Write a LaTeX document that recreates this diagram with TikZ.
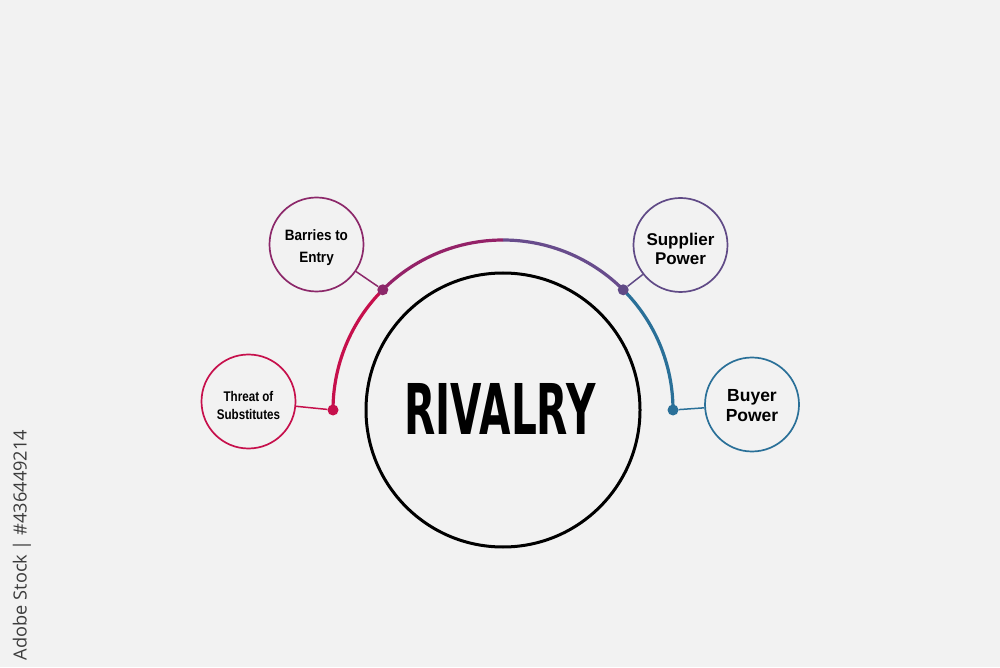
\documentclass[tikz,border=0pt]{standalone}
\usepackage{fontspec}
\usepackage{graphicx}
\setmainfont{Liberation Sans}
\newfontfamily\rivalfont{DejaVu Sans}
\definecolor{bgc}{RGB}{242,242,242}
\definecolor{crimc}{RGB}{198,16,76}
\definecolor{magc}{RGB}{148,34,104}
\definecolor{magdot}{RGB}{140,40,106}
\definecolor{purpc}{RGB}{104,76,140}
\definecolor{purpdot}{RGB}{96,74,134}
\definecolor{bluec}{RGB}{42,112,152}
\definecolor{idc}{RGB}{60,60,60}
\newcommand\mylbl[5]{\fontsize{#2}{#3}\selectfont\bfseries\scalebox{#1}[1]{\begin{tabular}{@{}c@{}}#4\\#5\end{tabular}}}
\tikzset{
  smallcirc/.style={circle, draw=#1, line width=1.7pt, minimum size=94pt, inner sep=0pt},
  lbltext/.style={inner sep=0pt, text=black},
  dotnode/.style={circle, fill=#1, minimum size=11pt, inner sep=0pt},
  conn/.style={draw=#1, line width=1.5pt},
  arcseg/.style={line width=3.2pt, line cap=butt}
}
\begin{document}
\begin{tikzpicture}[x=1pt,y=1pt]
\fill[bgc] (0,0) rectangle (1000,667);
\useasboundingbox (0,0) rectangle (1000,667);
\coordinate (C) at (503,257);
% outer arc in four coloured parts
\draw[arcseg, crimc] ([shift={(180:170)}]C) arc[start angle=180, end angle=135, radius=170];
\draw[arcseg, magc] ([shift={(135:170)}]C) arc[start angle=135, end angle=90, radius=170];
\draw[arcseg, purpc] ([shift={(90:170)}]C) arc[start angle=90, end angle=45, radius=170];
\draw[arcseg, bluec] ([shift={(45:170)}]C) arc[start angle=45, end angle=0, radius=170];
% central circle
\node[circle, draw=black, line width=3pt, minimum size=274pt, inner sep=0pt] (rival) at (C) {};
\node[inner sep=0pt] (rivaltxt) at (500,258.5) {\rivalfont\bfseries\fontsize{70}{70}\selectfont\scalebox{0.58}[1]{RIVALRY}};
% dots
\node[dotnode=crimc] (d1) at ([shift={(180:170)}]C) {};
\node[dotnode=magdot] (d2) at ([shift={(135:170)}]C) {};
\node[dotnode=purpdot] (d3) at ([shift={(45:170)}]C) {};
\node[dotnode=bluec] (d4) at ([shift={(0:170)}]C) {};
% outer circles
\node[smallcirc=magdot] (barr) at (316.5,422.5) {};
\node[smallcirc=crimc] (threat) at (248.5,265.5) {};
\node[smallcirc=purpdot] (supp) at (680.5,422) {};
\node[smallcirc=bluec] (buyer) at (752,262.5) {};
% labels
\node[lbltext] (barrtxt) at ([yshift=-2.5]barr.center) {\mylbl{0.9}{15}{22}{Barries to}{Entry}};
\node[lbltext] (threattxt) at ([yshift=-5.5]threat.center) {\mylbl{0.83}{14}{18}{Threat of}{Substitutes}};
\node[lbltext] (supptxt) at ([yshift=-6.5]supp.center) {\mylbl{1}{17}{18.5}{Supplier}{Power}};
\node[lbltext] (buyertxt) at ([yshift=-3]buyer.center) {\mylbl{1}{17.5}{20}{Buyer}{Power}};
% connectors
\draw[conn=magdot] (d2) -- (barr);
\draw[conn=crimc] (d1) -- (threat);
\draw[conn=purpdot] (d3) -- (supp);
\draw[conn=bluec] (d4) -- (buyer);
% stock id
\node[rotate=90, inner sep=0pt, text=idc] (stockid) at (22,122) {\resizebox{230pt}{!}{\fontspec{Open Sans}Adobe Stock | \#436449214}};
\end{tikzpicture}
\end{document}
